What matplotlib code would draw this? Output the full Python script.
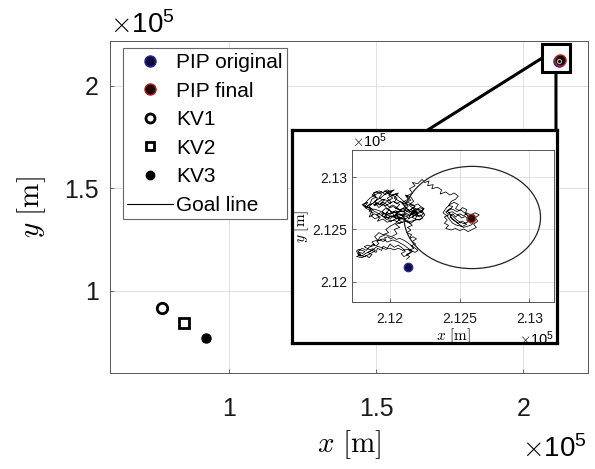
import matplotlib
matplotlib.use("Agg")
import matplotlib.pyplot as plt
from matplotlib.lines import Line2D
from matplotlib.patches import Circle, Rectangle, ConnectionPatch
from matplotlib.ticker import FixedLocator, FuncFormatter

plt.rcParams["font.family"] = ["Liberation Sans", "DejaVu Sans"]
plt.rcParams["mathtext.fontset"] = "cm"

# ---- data (metres)
kv_names = ["KV1", "KV2", "KV3"]
kv_x = [77000, 84700, 92000]
kv_y = [91700, 84400, 76700]

pip_original = (212131, 212138)
pip_final = (212581, 212609)
goal_center = (212590, 212615)
goal_radius = 490

# trajectory: (east, north) in metres relative to 212000
traj_origin = 212000
traj_pts = [
    # lower branch
    (120, 215), (140, 240), (118, 262), (150, 280), (135, 305), (170, 318), (150, 345),
    (185, 360), (160, 385), (190, 410), (165, 430), (140, 415), (155, 450), (120, 470),
    (150, 495), (125, 520), (160, 540), (135, 565),
    # core
    (100, 590), (130, 620), (80, 640), (110, 600), (60, 615), (40, 650), (75, 680), (20, 660),
    (-10, 690), (30, 640), (0, 600), (-40, 625), (-20, 660), (-60, 640), (-30, 600), (10, 580),
    (50, 610), (90, 650), (140, 630), (180, 665), (210, 620), (240, 650), (200, 690), (160, 660),
    (120, 700), (90, 670), (50, 700), (20, 720), (-20, 700), (-50, 740), (-80, 710), (-110, 760),
    (-90, 800), (-130, 830), (-100, 860), (-60, 840), (-80, 800), (-40, 780), (-70, 750),
    (-30, 730), (10, 760), (-20, 800), (20, 830), (50, 800), (30, 760), (70, 740), (40, 700),
    (80, 690), (110, 720), (90, 760), (130, 790), (110, 830), (150, 810), (170, 770), (140, 740),
    (180, 720), (150, 690), (190, 660), (230, 680), (250, 640), (220, 600), (180, 590),
    (150, 560), (110, 580), (70, 560), (30, 590), (-20, 570), (-50, 600), (-90, 580), (-70, 620),
    (-110, 650), (-150, 620), (-130, 680), (-170, 700), (-200, 740), (-160, 760), (-180, 720),
    (-140, 700), (-100, 690), (-60, 670), (-20, 640), (20, 620), (60, 650), (100, 630),
    # lower-left tail
    (70, 600), (40, 560), (0, 530), (-30, 500), (-10, 470), (-50, 450), (-80, 470), (-110, 430),
    (-90, 400), (-130, 380), (-110, 350), (-150, 330), (-170, 300), (-200, 320), (-230, 290),
    (-210, 260), (-240, 240), (-200, 230), (-170, 250), (-150, 230), (-130, 260), (-160, 280),
    (-130, 300),
    (-150, 285), (-175, 270), (-190, 255), (-215, 245), (-230, 265), (-220, 280), (-195, 270),
    (-180, 290), (-205, 300), (-225, 310), (-240, 295), (-235, 275), (-210, 250), (-185, 240),
    (-160, 255), (-140, 270), (-120, 285), (-105, 300), (-125, 315), (-145, 305), (-165, 320),
    (-185, 335), (-160, 350), (-140, 340), (-120, 360), (-100, 345), (-80, 365), (-95, 385),
    (-70, 400), (-50, 385), (-30, 400), (-40, 420), (-15, 430), (5, 410), (25, 425), (45, 405),
    (70, 415), (95, 400), (120, 380), (140, 360), (160, 340), (180, 320), (200, 300), (180, 280),
    (150, 300), (120, 310), (90, 300), (60, 320), (30, 305), (0, 320), (-30, 310), (-60, 325),
    (-90, 340), (-110, 320), (-130, 300),
    (-100, 280), (-90, 320), (-60, 300), (-50, 340), (-20, 320), (0, 360), (30, 330),
    (60, 350), (90, 320), (110, 290), (80, 270), (100, 240), (130, 260), (160, 290), (130, 320),
    (100, 350), (60, 380), (20, 400), (-20, 380), (-50, 410), (-90, 390), (-70, 430), (-30, 450),
    (10, 430), (50, 460), (30, 500), (70, 520), (40, 550), (90, 570),
    # dense core, second pass
    (60, 590), (75, 615), (45, 600), (30, 630), (55, 655), (25, 670), (0, 645), (-25, 665),
    (-5, 690), (-35, 700), (-55, 675), (-40, 650), (-70, 660), (-95, 640), (-80, 615),
    (-110, 605), (-135, 630), (-120, 660), (-150, 675), (-135, 700), (-165, 720), (-145, 745),
    (-130, 790), (-100, 810), (-120, 850), (-80, 870), (-50, 855), (-20, 880), (10, 860),
    (-10, 830), (20, 800), (-15, 775), (-45, 790), (-75, 770), (-115, 730), (-100, 760),
    (-75, 735), (-50, 760), (-25, 740), (-5, 715), (20, 735), (45, 715), (65, 690), (95, 700),
    (120, 675), (145, 690), (170, 710), (195, 690), (215, 710), (240, 695), (230, 670),
    (205, 655), (180, 640), (160, 615), (185, 600), (210, 590), (235, 610), (220, 640),
    (190, 625), (165, 650), (140, 640), (115, 655), (90, 635), (70, 650), (50, 630), (30, 615),
    (10, 630), (-15, 610), (-30, 630), (-10, 650), (15, 665), (40, 680), (65, 665), (85, 680),
    (110, 665), (135, 680), (155, 665), (175, 680), (200, 665), (180, 590), (140, 575),
    (100, 600),
    # upper-left blob
    (60, 600), (20, 630), (-30, 610), (-80, 650), (-120, 680), (-150, 720), (-110, 770),
    (-60, 810), (-20, 860), (30, 880), (0, 850), (-40, 870), (10, 830), (60, 850), (30, 800),
    (80, 760), (120, 700), (160, 660), (200, 640),
    (170, 700), (140, 730), (115, 750), (90, 780), (65, 810), (40, 840), (15, 820), (-10, 850),
    (-35, 835), (-60, 860), (-90, 845), (-115, 825), (-140, 805), (-160, 780), (-175, 755),
    (-190, 735), (-170, 715), (-150, 735), (-125, 750), (-105, 730), (-85, 750), (-60, 730),
    (-40, 750), (-20, 770), (0, 750), (25, 770), (50, 750), (75, 770), (100, 745), (125, 765),
    (150, 745), (175, 730), (200, 745), (220, 720), (245, 700), (225, 680), (200, 700),
    (170, 690),
    # path up and over to the east
    (130, 600), (170, 630), (140, 660), (100, 690), (130, 720), (110, 760), (150, 780),
    (120, 820), (160, 850), (140, 890), (180, 920), (160, 950), (200, 940), (230, 980),
    (250, 950), (280, 965), (270, 920), (310, 930), (300, 890), (340, 905), (370, 880),
    (360, 840), (400, 860), (430, 830), (460, 850), (490, 820), (470, 790), (440, 770),
    (420, 730), (450, 720), (430, 690), (400, 670), (420, 640), (390, 620),
    # cluster round the final point
    (410, 590), (390, 560), (420, 540), (400, 510), (440, 495), (470, 510), (500, 490),
    (530, 505), (560, 480), (590, 500), (620, 520), (600, 550), (630, 580), (610, 610),
    (640, 640), (610, 660), (580, 640), (550, 660), (530, 630), (500, 650), (470, 620),
    (450, 650), (430, 620), (460, 590), (490, 560), (520, 580), (550, 550), (520, 530),
    (480, 540), (450, 560), (430, 590), (410, 630), (380, 660), (400, 700), (430, 740),
    (460, 760), (490, 740), (470, 700), (500, 680), (520, 710), (550, 690), (540, 650),
    (570, 620), (600, 590), (580, 560), (550, 590), (560, 620), (590, 630),
    (560, 600), (540, 625), (515, 610), (495, 635), (470, 650), (445, 670), (420, 660),
    (440, 640), (460, 615), (480, 590), (505, 570), (530, 555), (555, 570), (575, 595),
    (555, 640), (530, 665), (505, 690), (480, 670), (455, 690), (430, 700), (410, 680),
    (425, 655), (445, 600), (470, 575), (500, 545), (525, 520), (555, 530), (585, 545),
    (605, 575), (590, 600), (570, 580), (581, 609),
]

main_ticks = [100000, 150000, 200000]
inset_ticks = [212000, 212500, 213000]

GRID = "#dcdcdc"
SPINE = "#555555"


def style(ax, size, padx, pady):
    for s in ax.spines.values():
        s.set_color(SPINE)
        s.set_linewidth(0.7)
    ax.tick_params(direction="in", length=3, width=0.6, color=SPINE,
                   labelsize=size, labelcolor="#1a1a1a")
    ax.tick_params(axis="x", pad=padx)
    ax.tick_params(axis="y", pad=pady)
    ax.grid(True, color=GRID, linewidth=0.6)
    ax.set_axisbelow(True)


def draw_content(ax, ms=6.0):
    tx = [traj_origin + p[0] for p in traj_pts]
    ty = [traj_origin + p[1] for p in traj_pts]
    ax.plot(tx, ty, color="black", linewidth=0.55, zorder=2)
    ax.add_patch(Circle(goal_center, goal_radius, fill=False, edgecolor="#222222",
                        linewidth=0.9, zorder=2))
    ax.plot(*pip_original, "o", ms=ms, mfc="#0d0d3a", mec="#2a2a9a", mew=1, zorder=4)
    ax.plot(*pip_final, "o", ms=ms, mfc="#1a0808", mec="#c02020", mew=1, zorder=4)


fig = plt.figure(figsize=(5.95, 4.69), dpi=100)
W, H = 595.0, 469.0


def fig_rect(l, t, r, b):
    return [l / W, 1 - b / H, (r - l) / W, (b - t) / H]


# ---- main axes
ax = fig.add_axes(fig_rect(110, 40.7, 588, 373.3))
style(ax, 18, 17, 8)
for name, x, y in zip(kv_names, kv_x, kv_y):
    if name == "KV1":
        ax.plot(x, y, "o", ms=7.5, mfc="white", mec="black", mew=2)
    elif name == "KV2":
        ax.plot(x, y, "s", ms=6.5, mfc="white", mec="black", mew=2)
    else:
        ax.plot(x, y, "o", ms=6.5, mfc="black", mec="black")
draw_content(ax, ms=8)
ax.plot(*pip_original, "o", ms=3, mfc="none", mec="#aaaaaa", mew=0.8, zorder=5)

ax.set_xlim(59400, 222000)
ax.set_ylim(59600, 222100)
ax.xaxis.set_major_locator(FixedLocator(main_ticks))
ax.yaxis.set_major_locator(FixedLocator(main_ticks))
fmt = FuncFormatter(lambda v, p: f"{v / 1e5:g}")
ax.xaxis.set_major_formatter(fmt)
ax.yaxis.set_major_formatter(fmt)
ax.set_xlabel(r"$x\ [\mathrm{m}]$", fontsize=21, labelpad=5)
ax.set_ylabel(r"$y\ [\mathrm{m}]$", fontsize=21, labelpad=12)
ax.text(0.0, 1.005, r"$\times\mathregular{10^5}$", transform=ax.transAxes,
        fontsize=20, ha="left", va="bottom")
ax.text(0.998, -0.185, r"$\times\mathregular{10^5}$", transform=ax.transAxes,
        fontsize=20, ha="right", va="top")

# zoom box in main axes
box_x0, box_x1 = 206300, 215900
box_y0, box_y1 = 206600, 220500
ax.add_patch(Rectangle((box_x0, box_y0), box_x1 - box_x0, box_y1 - box_y0,
                       fill=False, edgecolor="black", linewidth=2.2, zorder=6))

handles = [
    Line2D([], [], ls="none", marker="o", ms=8, mfc="#0d0d3a", mec="#2a2a9a", mew=1),
    Line2D([], [], ls="none", marker="o", ms=8, mfc="#1a0808", mec="#c02020", mew=1),
    Line2D([], [], ls="none", marker="o", ms=6.5, mfc="white", mec="black", mew=2),
    Line2D([], [], ls="none", marker="s", ms=6, mfc="white", mec="black", mew=2),
    Line2D([], [], ls="none", marker="o", ms=6, mfc="black", mec="black"),
    Line2D([], [], color="black", lw=0.8),
]
labels = ["PIP original", "PIP final"] + kv_names + ["Goal line"]
leg = ax.legend(handles, labels, loc="upper left", bbox_to_anchor=(0.0266, 0.977),
                borderaxespad=0, fontsize=15, handlelength=2.2, handletextpad=0.15,
                labelspacing=0.46, borderpad=0.22, fancybox=False, framealpha=1,
                edgecolor="#666666")
leg.get_frame().set_linewidth(0.8)

# ---- inset frame + inset axes
frame = fig.add_axes(fig_rect(292, 130, 556.7, 343.3))
frame.set_xticks([])
frame.set_yticks([])
for s in frame.spines.values():
    s.set_linewidth(2.3)
    s.set_color("black")
frame.set_zorder(3)

ins = fig.add_axes(fig_rect(351.7, 150, 554.3, 302.3))
ins.set_zorder(4)
style(ins, 10, 7, 3)
draw_content(ins)
ins.set_xlim(211725, 213179)
ins.set_ylim(211802, 213262)
ins.xaxis.set_major_locator(FixedLocator(inset_ticks))
ins.yaxis.set_major_locator(FixedLocator(inset_ticks))
ins.xaxis.set_major_formatter(fmt)
ins.yaxis.set_major_formatter(fmt)
ins.set_xlabel(r"$x\ [\mathrm{m}]$", fontsize=11, labelpad=0)
ins.set_ylabel(r"$y\ [\mathrm{m}]$", fontsize=11, labelpad=1)
ins.text(0.0, 1.0, r"$\times\mathregular{10^5}$", transform=ins.transAxes,
         fontsize=10.5, ha="left", va="bottom")
ins.text(1.0, -0.18, r"$\times\mathregular{10^5}$", transform=ins.transAxes,
         fontsize=10.5, ha="right", va="top")

# connector lines from the zoom box to the inset frame
for xy_a, xy_b in [((box_x0, (box_y0 + box_y1) / 2), (427.7 / W, 1 - 130 / H)),
                   (((box_x0 + box_x1) / 2, box_y0), (556 / W, 1 - 130 / H))]:
    con = ConnectionPatch(xyA=xy_a, coordsA=ax.transData, xyB=xy_b,
                          coordsB=fig.transFigure, color="black", linewidth=2.2)
    con.set_zorder(2)
    fig.add_artist(con)

fig.savefig("out.png", dpi=100)
